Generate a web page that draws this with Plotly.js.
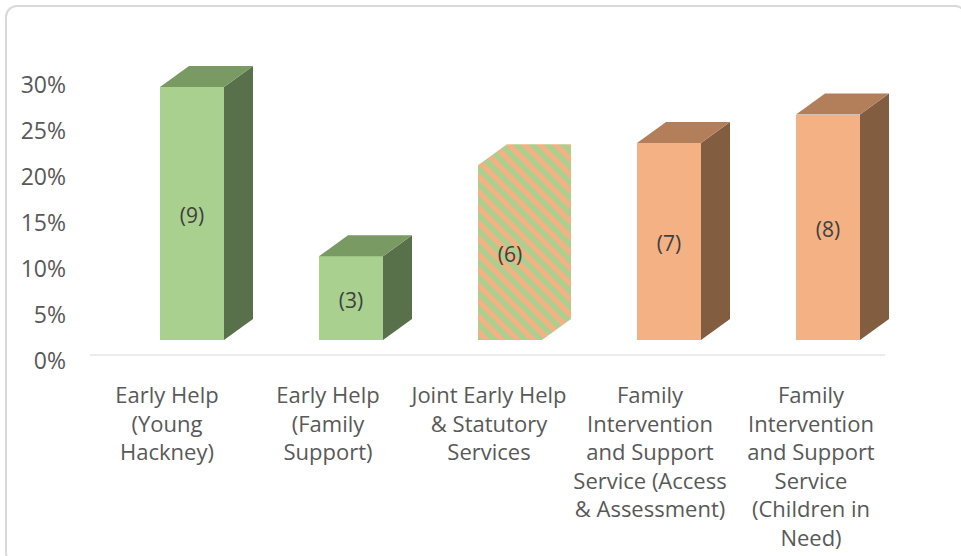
<!DOCTYPE html>
<html>
<head>
<meta charset="utf-8">
<script src="https://cdn.plot.ly/plotly-3.0.1.min.js"></script>
<style>
  html, body { margin: 0; padding: 0; background: #ffffff; }
  #frame { position: absolute; left: 5px; top: 5px; width: 962px; height: 560px;
           border: 2px solid #D9D9D9; border-radius: 12px; box-sizing: border-box; }
  #chart { position: absolute; left: 0; top: 0; width: 961px; height: 556px; }
</style>
</head>
<body>
<div id="frame"></div>
<div id="chart"></div>
<script>
// ---- data ----
const categories = [
  "Early Help<br>(Young<br>Hackney)",
  "Early Help<br>(Family<br>Support)",
  "Joint Early Help<br>& Statutory<br>Services",
  "Family<br>Intervention<br>and Support<br>Service (Access<br>& Assessment)",
  "Family<br>Intervention<br>and Support<br>Service<br>(Children in<br>Need)"
];
const shares = [0.275, 0.091, 0.19, 0.214, 0.245];
const counts = [9, 3, 6, 7, 8];
const yTickVals = [0, 0.05, 0.10, 0.15, 0.20, 0.25, 0.30];

// ---- styles ----
const GREEN = {front: "#A9D08E", side: "#58714A", top: "#7A9A63"};
const ORANGE = {front: "#F4B183", side: "#835D40", top: "#B37F5B"};
const palette = [GREEN, GREEN, null, ORANGE, ORANGE];   // null = striped (joint)
const FONT = "Open Sans, Noto Sans, sans-serif";
const BAR_W = 0.4025;      // bar width in x2 units
const DX = 0.1824;         // depth offset (x2 units)
const DY = 0.02283;        // depth offset (y2 units)
const LABEL_DROP = 0.005;  // count label sits slightly below face centre
const stripe = {shape: "\\", fgcolor: GREEN.front, bgcolor: ORANGE.front, size: 11, solidity: 0.5};

const xs = categories.map((_, i) => i);

const traces = [];

// front faces (drawn in bar layer, below the scatter faces)
traces.push({
  type: "bar", x: xs, y: shares, xaxis: "x2", yaxis: "y2",
  width: BAR_W,
  marker: {
    color: palette.map(p => p ? p.front : "rgba(0,0,0,0)"),
    line: {width: 0}
  },
  hoverinfo: "skip"
});

// 3D faces
shares.forEach((v, i) => {
  const xl = i - BAR_W / 2, xr = i + BAR_W / 2;
  const p = palette[i];
  const base = {type: "scatter", mode: "lines", xaxis: "x2", yaxis: "y2",
                fill: "toself", line: {width: 0}, hoverinfo: "skip", showlegend: false};
  if (p) {
    traces.push(Object.assign({}, base, {
      x: [xr, xr + DX, xr + DX, xr, xr], y: [0, DY, v + DY, v, 0], fillcolor: p.side}));
    traces.push(Object.assign({}, base, {
      x: [xl, xl + DX, xr + DX, xr, xl], y: [v, v + DY, v + DY, v, v], fillcolor: p.top}));
  } else {
    // whole striped silhouette (front + side + top)
    traces.push(Object.assign({}, base, {
      x: [xl, xr, xr + DX, xr + DX, xl + DX, xl, xl],
      y: [0, 0, DY, v + DY, v + DY, v, 0],
      fillcolor: ORANGE.front, fillpattern: Object.assign({}, stripe)}));
  }
});

// count labels on top of everything
traces.push({
  type: "scatter", mode: "text", xaxis: "x2", yaxis: "y2",
  x: xs, y: shares.map(v => v / 2 - LABEL_DROP),
  text: counts.map(c => "(" + c + ")"),
  textposition: "middle center",
  textfont: {family: FONT, size: 21, color: "#404040"},
  hoverinfo: "skip", showlegend: false
});

const layout = {
  width: 961, height: 556,
  margin: {l: 70, r: 16, t: 40, b: 176},
  paper_bgcolor: "rgba(0,0,0,0)", plot_bgcolor: "rgba(0,0,0,0)",
  showlegend: false,
  bargap: 0,
  xaxis: {
    range: [-0.6025, 4.8323], tickmode: "array", tickvals: xs, ticktext: categories,
    showgrid: false, zeroline: false, showline: false, ticks: "",
    tickfont: {family: FONT, size: 22, color: "#595959"}, fixedrange: true
  },
  xaxis2: {range: [-0.7673, 4.7358], overlaying: "x", visible: false, fixedrange: true},
  yaxis: {
    range: [-0.02065, 0.3489], tickmode: "array", tickvals: yTickVals, tickformat: ".0%",
    showgrid: false, zeroline: false, showline: false, ticks: "", ticklabelstandoff: 3,
    tickfont: {family: FONT, size: 23, color: "#595959"}, fixedrange: true
  },
  yaxis2: {range: [-0.04348, 0.32609], overlaying: "y", visible: false, fixedrange: true},
  shapes: [{
    type: "line", xref: "x", yref: "y", x0: -0.478, x1: 4.4596, y0: 0.0065, y1: 0.0065,
    line: {color: "#D9D9D9", width: 1}, layer: "below"
  }]
};

Plotly.newPlot("chart", traces, layout, {staticPlot: true, displayModeBar: false});
</script>
</body>
</html>
